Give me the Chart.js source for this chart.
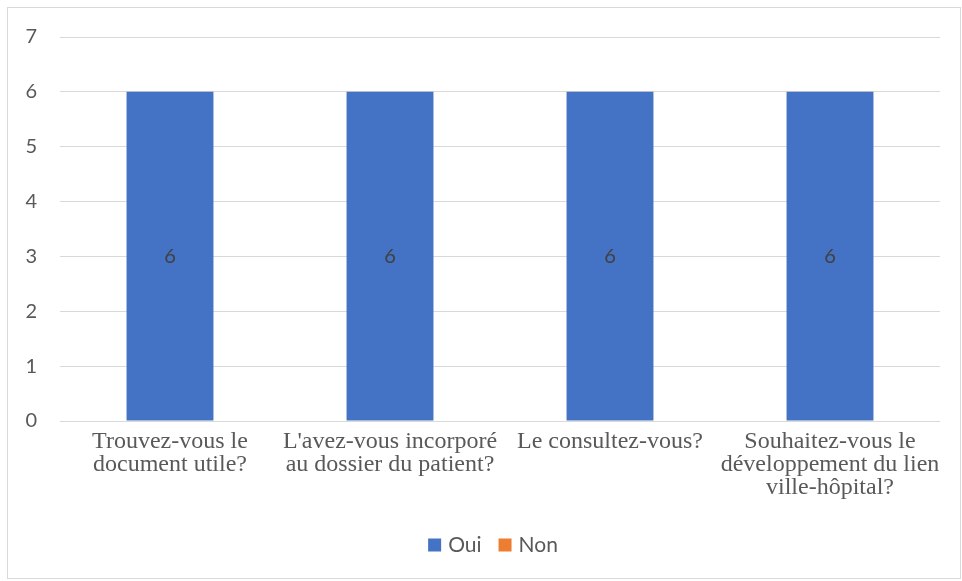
<!DOCTYPE html>
<html>
<head>
<meta charset="utf-8">
<script src="https://cdn.jsdelivr.net/npm/chart.js@4/dist/chart.umd.min.js"></script>
<style>
html,body{margin:0;padding:0;background:#fff;}
#wrap{position:relative;width:962px;height:581px;}
</style>
</head>
<body>
<div id="wrap"><canvas id="c" width="962" height="581"></canvas></div>
<script>
const categories = [
  ["Trouvez-vous le", "document utile?"],
  ["L'avez-vous incorporé", "au dossier du patient?"],
  ["Le consultez-vous?"],
  ["Souhaitez-vous le", "développement du lien", "ville-hôpital?"]
];
const ouiValues = [6, 6, 6, 6];
const nonValues = [0, 0, 0, 0];
const yTicks = [0, 1, 2, 3, 4, 5, 6, 7];

const borderPlugin = {
  id: 'outerBorder',
  beforeDraw(chart) {
    const ctx = chart.ctx;
    ctx.save();
    ctx.fillStyle = '#ffffff';
    ctx.fillRect(0, 0, chart.width, chart.height);
    ctx.strokeStyle = '#d9d9d9';
    ctx.lineWidth = 1;
    ctx.strokeRect(7.5, 7.5, 953, 571);
    ctx.restore();
  }
};

const labelPlugin = {
  id: 'barLabels',
  afterDatasetsDraw(chart) {
    const ctx = chart.ctx;
    const meta = chart.getDatasetMeta(0);
    const data = chart.data.datasets[0].data;
    ctx.save();
    ctx.fillStyle = '#404040';
    ctx.font = '20px Lato, "Open Sans", sans-serif';
    ctx.textAlign = 'center';
    ctx.textBaseline = 'middle';
    meta.data.forEach((el, i) => {
      if (!data[i]) return;
      const p = el.getProps(['x', 'y', 'base'], true);
      ctx.fillText(String(data[i]), p.x, (p.y + p.base) / 2);
    });
    ctx.restore();
  }
};

const legendPlugin = {
  id: 'customLegend',
  afterDraw(chart) {
    const ctx = chart.ctx;
    const box = 13, gapText = 7, gapItem = 17;
    ctx.save();
    ctx.font = '21px Lato, "Open Sans", sans-serif';
    ctx.textBaseline = 'middle';
    ctx.textAlign = 'left';
    const items = chart.data.datasets.map(ds => ({
      label: ds.label, color: ds.backgroundColor, w: ctx.measureText(ds.label).width
    }));
    let total = 0;
    items.forEach((it, i) => { total += box + gapText + it.w + (i ? gapItem : 0); });
    let x = 493 - total / 2;
    const cy = 545;
    items.forEach((it, i) => {
      if (i) x += gapItem;
      ctx.fillStyle = it.color;
      ctx.fillRect(x, cy - box / 2, box, box);
      x += box + gapText;
      ctx.fillStyle = '#595959';
      ctx.fillText(it.label, x, cy);
      x += it.w;
    });
    ctx.restore();
  }
};

new Chart(document.getElementById('c'), {
  type: 'bar',
  data: {
    labels: categories,
    datasets: [
      { label: 'Oui', data: ouiValues, backgroundColor: '#4472C4', borderWidth: 0, barPercentage: 0.79, categoryPercentage: 0.5 },
      { label: 'Non', data: nonValues, backgroundColor: '#ED7D31', borderWidth: 0, barPercentage: 0.79, categoryPercentage: 0.5 }
    ]
  },
  options: {
    responsive: false,
    animation: false,
    devicePixelRatio: 1,
    layout: { padding: { left: 10, right: 22, top: 37, bottom: 57 } },
    plugins: {
      legend: { display: false },
      tooltip: { enabled: false }
    },
    scales: {
      x: {
        stacked: true,
        grid: { display: false, drawTicks: false },
        border: { display: false },
        ticks: {
          color: '#595959',
          padding: 9,
          maxRotation: 0,
          autoSkip: false,
          font: { size: 24, family: '"Liberation Serif", "Times New Roman", serif', lineHeight: 0.96 }
        },
        afterFit(scale) { scale.height = 103; }
      },
      y: {
        stacked: true,
        min: 0,
        max: 7,
        afterBuildTicks(scale) { scale.ticks = yTicks.map(v => ({ value: v })); },
        grid: { color: '#d9d9d9', drawTicks: false, lineWidth: 1 },
        border: { display: false },
        ticks: {
          color: '#595959',
          padding: 23,
          font: { size: 20, family: 'Lato, "Open Sans", sans-serif' }
        },
        afterFit(scale) { scale.width = 50; }
      }
    }
  },
  plugins: [borderPlugin, labelPlugin, legendPlugin]
});
</script>
</body>
</html>
